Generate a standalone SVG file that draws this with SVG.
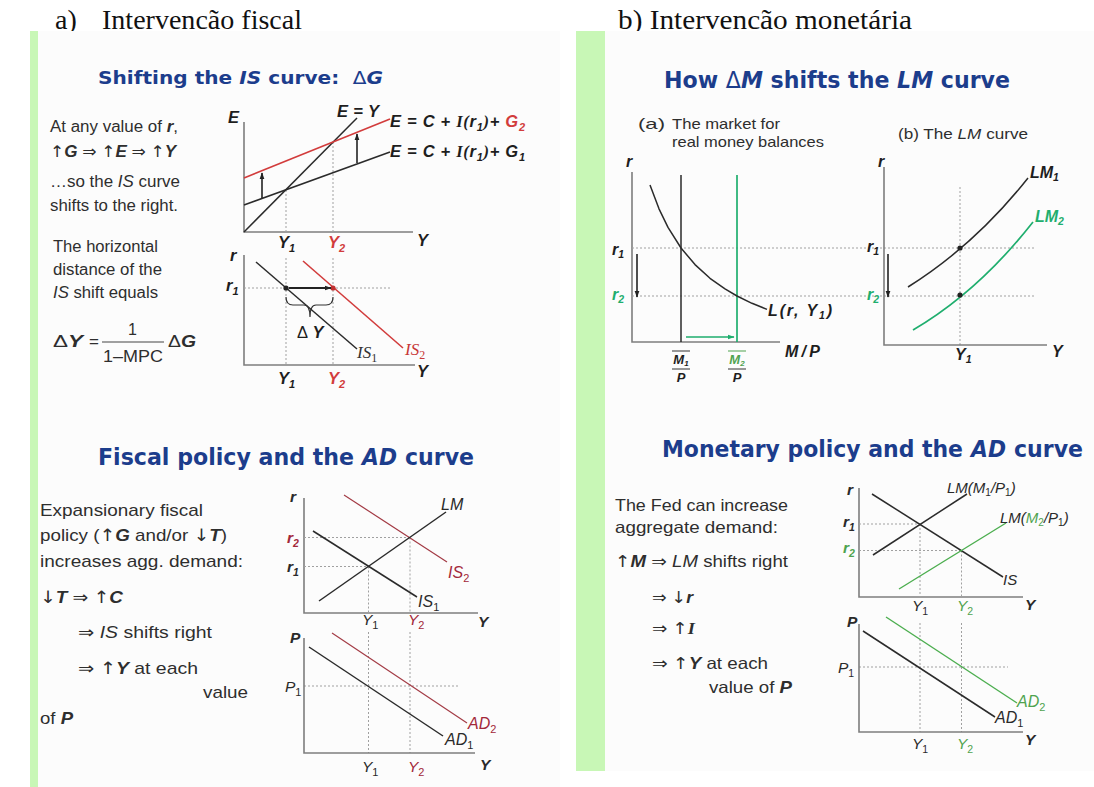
<svg xmlns="http://www.w3.org/2000/svg" width="1094" height="787" viewBox="0 0 1094 787">
<defs>
<style>
.hd{font-family:'Liberation Serif','Times New Roman',serif;font-size:28px;fill:#111}
.ttl{font-family:'DejaVu Sans',Verdana,sans-serif;font-weight:bold;fill:#1c3d8c}
.tx{font-family:'Liberation Sans',Arial,'DejaVu Sans',sans-serif;fill:#2e2e2e}
.lb{font-family:'Liberation Sans',Arial,'DejaVu Sans',sans-serif;font-style:italic;font-weight:bold;fill:#1e1e1e}
.li{font-family:'Liberation Sans',Arial,'DejaVu Sans',sans-serif;font-style:italic;fill:#2a2a2a}
.sf{font-family:'Liberation Serif','Times New Roman',serif}
.ar{font-family:'DejaVu Sans',sans-serif;font-weight:normal;font-style:normal}
.b{font-weight:bold}
.i{font-style:italic}
.n{font-weight:normal;font-style:normal}
.ax{fill:none;stroke:#7d7d7d;stroke-width:1.6}
.dt{fill:none;stroke:#a0a0a0;stroke-width:1;stroke-dasharray:2 2}
.k{fill:none;stroke:#2b2b2b;stroke-width:1.5}
.rd{fill:none;stroke:#d23c3c;stroke-width:1.6}
.dr{fill:none;stroke:#a33a44;stroke-width:1.2}
.tg{fill:none;stroke:#1fae6e;stroke-width:1.7}
.lg{fill:none;stroke:#4cae4f;stroke-width:1.4}
.cr{fill:#d23c3c}
.cdr{fill:#a3283a}
.ctg{fill:#1fae6e}
.clg{fill:#4fa34f}
</style>
<marker id="ak" viewBox="0 0 10 10" refX="9" refY="5" markerWidth="7" markerHeight="7" markerUnits="userSpaceOnUse" orient="auto"><path d="M0,1.5 L10,5 L0,8.5 z" fill="#222"/></marker>
<marker id="ag" viewBox="0 0 10 10" refX="9" refY="5" markerWidth="7" markerHeight="7" markerUnits="userSpaceOnUse" orient="auto"><path d="M0,1.5 L10,5 L0,8.5 z" fill="#1fae6e"/></marker>
</defs>
<rect width="1094" height="787" fill="#ffffff"/>
<g id="headers">
<text class="hd" x="55" y="29">a)</text>
<text class="hd" x="102" y="29" textLength="200" lengthAdjust="spacingAndGlyphs">Intervencão fiscal</text>
<text class="hd" x="618" y="29" textLength="294" lengthAdjust="spacingAndGlyphs">b) Intervencão monetária</text>
</g>
<g id="backgrounds">
<rect x="38" y="31" width="522" height="756" fill="#fcfcfc"/>
<rect x="605" y="31" width="489" height="740" fill="#fcfcfc"/>
<rect x="30" y="31" width="8" height="756" fill="#c8f7b6"/>
<rect x="576" y="31" width="29" height="740" fill="#c8f7b6"/>
</g>

<g id="panel-a-shift-is">
<text class="ttl" x="98" y="84" font-size="18.5" textLength="285" lengthAdjust="spacingAndGlyphs">Shifting the <tspan class="i">IS</tspan> curve: <tspan dx="6" class="n">Δ</tspan><tspan class="i">G</tspan></text>
<g class="tx" font-size="16">
<text x="50" y="132" textLength="128" lengthAdjust="spacingAndGlyphs">At any value of <tspan class="b i">r</tspan>,</text>
<text x="50" y="157" textLength="126" lengthAdjust="spacingAndGlyphs"><tspan class="ar">↑</tspan><tspan class="b i">G</tspan> ⇒ <tspan class="ar">↑</tspan><tspan class="b i">E</tspan> ⇒ <tspan class="ar">↑</tspan><tspan class="b i">Y</tspan></text>
<text x="50" y="187" textLength="130" lengthAdjust="spacingAndGlyphs">…so the <tspan class="i">IS</tspan> curve</text>
<text x="50" y="211" textLength="128" lengthAdjust="spacingAndGlyphs">shifts to the right.</text>
<text x="53" y="252" textLength="105" lengthAdjust="spacingAndGlyphs">The horizontal</text>
<text x="53" y="275" textLength="109" lengthAdjust="spacingAndGlyphs">distance of the</text>
<text x="53" y="298" textLength="105" lengthAdjust="spacingAndGlyphs"><tspan class="i">IS</tspan> shift equals</text>
<text x="53" y="347" font-size="17" textLength="30" lengthAdjust="spacingAndGlyphs">Δ<tspan class="b i">Y</tspan></text>
<text x="89" y="347" font-size="17">=</text>
<text x="128" y="335">1</text>
<text x="103" y="362" textLength="60" lengthAdjust="spacingAndGlyphs">1–MPC</text>
<text x="168" y="347" font-size="17" textLength="28" lengthAdjust="spacingAndGlyphs">Δ<tspan class="b i">G</tspan></text>
</g>
<line x1="102" y1="342" x2="164" y2="342" stroke="#444" stroke-width="1"/>
<path class="ax" d="M244,122 V232 H413"/>
<path class="dt" d="M286,190 V232 M333,142 V232"/>
<path class="k" d="M244,232 L357,118"/>
<path class="k" d="M244,205 L390,152"/>
<path class="rd" d="M244,178 L390,119"/>
<g class="lb" font-size="16.5">
<text x="228" y="123">E</text>
<text x="337" y="117" textLength="42" lengthAdjust="spacing">E = Y</text>
<text x="390" y="127" textLength="135" lengthAdjust="spacing">E = C + <tspan class="sf">I(</tspan>r<tspan font-size="11" dy="4">1</tspan><tspan class="sf" dy="-4">)</tspan>+ <tspan class="cr">G<tspan font-size="11" dy="4">2</tspan></tspan></text>
<text x="390" y="157" textLength="135" lengthAdjust="spacing">E = C + <tspan class="sf">I(</tspan>r<tspan font-size="11" dy="4">1</tspan><tspan class="sf" dy="-4">)</tspan>+ G<tspan font-size="11" dy="4">1</tspan></text>
<text x="278" y="248">Y<tspan font-size="11" dy="4">1</tspan></text>
<text x="328" y="248" class="cr">Y<tspan font-size="11" dy="4">2</tspan></text>
<text x="417" y="246">Y</text>
</g>
<path class="ax" d="M244,255 V365 H415"/>
<path class="dt" d="M244,288 H390 M286,258 V365 M333,258 V365"/>
<path class="k" d="M256,262 L357,349"/>
<path class="rd" d="M303,261 L403,348"/>
<circle cx="286" cy="288" r="2.6" fill="#222"/>
<circle cx="333" cy="288" r="2.6" fill="#c03030"/>
<path d="M286,297 Q286,305 293,305 L304,305 Q310,305 310,317 Q310,305 316,305 L326,305 Q333,305 333,297" fill="none" stroke="#333" stroke-width="1.2"/>
<g class="lb" font-size="16.5">
<text x="230" y="261">r</text>
<text x="226" y="291">r<tspan font-size="11" dy="4">1</tspan></text>
<text x="297" y="338"><tspan class="n">Δ</tspan> Y</text>
<text x="278" y="384">Y<tspan font-size="11" dy="4">1</tspan></text>
<text x="328" y="384" class="cr">Y<tspan font-size="11" dy="4">2</tspan></text>
<text x="417" y="377">Y</text>
</g>
<text class="sf" x="357" y="358" font-size="17" font-style="italic" fill="#333">IS<tspan font-style="normal" font-size="12" dy="4">1</tspan></text>
<text class="sf" x="405" y="355" font-size="17" font-style="italic" fill="#c83838">IS<tspan font-style="normal" font-size="12" dy="4">2</tspan></text>
</g>

<g id="panel-a-fiscal-ad">
<text class="ttl" x="98" y="465" font-size="22.5" textLength="256" lengthAdjust="spacingAndGlyphs">Fiscal policy and the</text>
<text class="ttl i" x="362" y="465" font-size="22.5" textLength="35" lengthAdjust="spacingAndGlyphs">AD</text>
<text class="ttl" x="405" y="465" font-size="22.5" textLength="69" lengthAdjust="spacingAndGlyphs">curve</text>
<g class="tx" font-size="17">
<text x="40" y="516" textLength="163" lengthAdjust="spacingAndGlyphs">Expansionary fiscal</text>
<text x="40" y="541" textLength="187" lengthAdjust="spacingAndGlyphs">policy (<tspan class="ar">↑</tspan><tspan class="b i">G</tspan>  and/or <tspan class="ar">↓</tspan><tspan class="b i">T</tspan>)</text>
<text x="40" y="567" textLength="203" lengthAdjust="spacingAndGlyphs">increases agg. demand:</text>
<text x="40" y="603" textLength="83" lengthAdjust="spacingAndGlyphs"><tspan class="ar">↓</tspan><tspan class="b i">T</tspan> ⇒ <tspan class="ar">↑</tspan><tspan class="b i">C</tspan></text>
<text x="78" y="638" textLength="134" lengthAdjust="spacingAndGlyphs">⇒ <tspan class="i">IS</tspan> shifts right</text>
<text x="78" y="674" textLength="120" lengthAdjust="spacingAndGlyphs">⇒ <tspan class="ar">↑</tspan><tspan class="b i">Y</tspan>  at each</text>
<text x="203" y="698" textLength="45" lengthAdjust="spacingAndGlyphs">value</text>
<text x="40" y="724" textLength="33" lengthAdjust="spacingAndGlyphs">of <tspan class="b i">P</tspan></text>
</g>
<path class="ax" d="M304,498 V613 H478"/>
<path class="dt" d="M304,566.5 H368.5 M304,537.5 H410 M368.5,566.5 V613 M410,537.5 V613 M368.5,632 V753 M410,632 V753 M304,686 H460"/>
<path class="k" stroke-width="1.2" d="M313,531 L417,597"/>
<path class="dr" d="M344,495 L447,562"/>
<path class="k" stroke-width="1.2" d="M319,601 L446,512"/>
<path class="ax" d="M304,638 V753 H475"/>
<path class="k" stroke-width="1.2" d="M309,647 L443,736"/>
<path class="dr" d="M332,633 L467,723"/>
<g class="li" font-size="15.5">
<text x="290" y="502" class="b">r</text>
<text x="287" y="543" class="b cdr">r<tspan font-size="10.5" dy="4">2</tspan></text>
<text x="287" y="572" class="b">r<tspan font-size="10.5" dy="4">1</tspan></text>
<text x="441" y="510" font-size="16">LM</text>
<text x="448" y="578" class="cdr" font-size="16">IS<tspan font-size="11" dy="4" font-style="normal">2</tspan></text>
<text x="418" y="607" font-size="16">IS<tspan font-size="11" dy="4" font-style="normal">1</tspan></text>
<text x="362" y="625">Y<tspan font-size="11" dy="4" font-style="normal">1</tspan></text>
<text x="408" y="625" class="cdr">Y<tspan font-size="11" dy="4" font-style="normal">2</tspan></text>
<text x="478" y="627" class="b">Y</text>
<text x="290" y="643" class="b">P</text>
<text x="285" y="692">P<tspan font-size="11" dy="4" font-style="normal">1</tspan></text>
<text x="468" y="729" class="cdr" font-size="16">AD<tspan font-size="11" dy="4" font-style="normal">2</tspan></text>
<text x="445" y="745" font-size="16">AD<tspan font-size="11" dy="4" font-style="normal">1</tspan></text>
<text x="362" y="772">Y<tspan font-size="11" dy="4" font-style="normal">1</tspan></text>
<text x="408" y="772" class="cdr">Y<tspan font-size="11" dy="4" font-style="normal">2</tspan></text>
<text x="480" y="770" class="b">Y</text>
</g>
</g>

<g id="panel-b-shift-lm">
<text class="ttl" x="664" y="88" font-size="22.5" textLength="346" lengthAdjust="spacingAndGlyphs">How <tspan class="n">Δ</tspan><tspan class="i">M</tspan> shifts the <tspan class="i">LM</tspan> curve</text>
<g class="tx" font-size="14.5" fill="#444">
<text x="638" y="128.5" textLength="27" lengthAdjust="spacingAndGlyphs">(a)</text>
<text x="672" y="128.5" textLength="108" lengthAdjust="spacingAndGlyphs">The market for</text>
<text x="672" y="146.5" textLength="152" lengthAdjust="spacingAndGlyphs">real money balances</text>
<text x="898" y="138.5" textLength="130" lengthAdjust="spacingAndGlyphs">(b) The <tspan class="i">LM</tspan> curve</text>
</g>
<path class="ax" d="M632,172 V342 H780"/>
<path class="dt" d="M632,248 H1035 M632,296 H1035 M960,187 V345"/>
<path class="k" stroke-width="2" d="M681,175 V342"/>
<path class="tg" d="M737,175 V342"/>
<polyline class="k" stroke-width="1.6" stroke-linejoin="round" points="650,185 659,208.8 668,227.4 681,248 695,264.6 710,278.3 725,288.9 737,296 752,303.3 767,309.4"/>
<g class="lb" font-size="16">
<text x="626" y="167">r</text>
<text x="612" y="255">r<tspan font-size="10.5" dy="3">1</tspan></text>
<text x="612" y="300" class="ctg">r<tspan font-size="10.5" dy="3">2</tspan></text>
<text x="768" y="316" textLength="64" lengthAdjust="spacing">L(r, Y<tspan font-size="10.5" dy="3">1</tspan><tspan dy="-3">)</tspan></text>
<text x="785" y="357" textLength="35" lengthAdjust="spacing">M/P</text>
</g>
<g class="lb" font-size="13" text-anchor="middle">
<text x="681" y="364">M<tspan font-size="8" dy="2">1</tspan></text>
<text x="681" y="382">P</text>
<text x="737" y="364" class="clg">M<tspan font-size="8" dy="2">2</tspan></text>
<text x="737" y="382">P</text>
</g>
<path d="M672,351 H690 M672,369 H690 M728,369 H746" stroke="#333" stroke-width="1"/>
<path d="M728,351 H746" stroke="#4fa34f" stroke-width="1"/>
<path class="ax" d="M884,167 V345 H1047"/>
<path class="k" stroke-width="2" d="M908,287 Q975,245 1028,178"/>
<path class="tg" stroke-width="2" d="M913,330 Q978,292 1033,222"/>
<circle cx="960" cy="248" r="2.6" fill="#222"/>
<circle cx="960" cy="295" r="2.6" fill="#222"/>
<g class="lb" font-size="16">
<text x="878" y="167">r</text>
<text x="867" y="252">r<tspan font-size="10.5" dy="3">1</tspan></text>
<text x="867" y="300" class="ctg">r<tspan font-size="10.5" dy="3">2</tspan></text>
<text x="1030" y="178">LM<tspan font-size="10.5" dy="3">1</tspan></text>
<text x="1035" y="222" class="ctg">LM<tspan font-size="10.5" dy="3">2</tspan></text>
<text x="955" y="360">Y<tspan font-size="10.5" dy="3">1</tspan></text>
<text x="1052" y="357">Y</text>
</g>
</g>

<g id="panel-b-monetary-ad">
<text class="ttl" x="662" y="457" font-size="22.5" textLength="301" lengthAdjust="spacingAndGlyphs">Monetary policy and the</text>
<text class="ttl i" x="971" y="457" font-size="22.5" textLength="35" lengthAdjust="spacingAndGlyphs">AD</text>
<text class="ttl" x="1014" y="457" font-size="22.5" textLength="69" lengthAdjust="spacingAndGlyphs">curve</text>
<g class="tx" font-size="16.5">
<text x="615" y="511" textLength="173" lengthAdjust="spacingAndGlyphs">The Fed can increase</text>
<text x="615" y="533" textLength="163" lengthAdjust="spacingAndGlyphs">aggregate demand:</text>
<text x="615" y="567" textLength="173" lengthAdjust="spacingAndGlyphs"><tspan class="ar">↑</tspan><tspan class="b i">M</tspan> ⇒ <tspan class="i">LM</tspan> shifts right</text>
<text x="652" y="603" textLength="41" lengthAdjust="spacingAndGlyphs">⇒ <tspan class="ar">↓</tspan><tspan class="b i">r</tspan></text>
<text x="652" y="634" textLength="43" lengthAdjust="spacingAndGlyphs">⇒ <tspan class="ar">↑</tspan><tspan class="sf b i">I</tspan></text>
<text x="652" y="669" textLength="116" lengthAdjust="spacingAndGlyphs">⇒ <tspan class="ar">↑</tspan><tspan class="b i">Y</tspan>  at each</text>
<text x="709" y="693" textLength="83" lengthAdjust="spacingAndGlyphs">value of <tspan class="b i">P</tspan></text>
</g>
<path class="ax" d="M859,488 V597 H1023"/>
<path class="dt" d="M859,524 H920 M859,550.5 H961.5 M920,524 V597 M961.5,550.5 V597 M920,623 V732 M961.5,623 V732 M859,667 H1008"/>
<path class="k" stroke-width="1.2" d="M872,494 L1003,577"/>
<path class="k" stroke-width="1.2" d="M873,555 L967,494"/>
<path class="lg" d="M899,589 L1006,523"/>
<path class="ax" d="M859,624 V732 H1023"/>
<path class="k" stroke-width="1.2" d="M863,631 L995,717"/>
<path class="lg" d="M886,617 L1017,703"/>
<g class="li" font-size="15.5">
<text x="847" y="495" class="b">r</text>
<text x="843" y="527" class="b">r<tspan font-size="10.5" dy="4">1</tspan></text>
<text x="843" y="553" class="b clg">r<tspan font-size="10.5" dy="4">2</tspan></text>
<text x="947" y="493" font-size="15">LM(M<tspan font-size="10" dy="3" font-style="normal">1</tspan><tspan dy="-3">/P</tspan><tspan font-size="10" dy="3" font-style="normal">1</tspan><tspan dy="-3">)</tspan></text>
<text x="1000" y="523" font-size="15">LM(<tspan class="clg">M<tspan font-size="10" dy="3" font-style="normal">2</tspan></tspan><tspan dy="-3">/P</tspan><tspan font-size="10" dy="3" font-style="normal">1</tspan><tspan dy="-3">)</tspan></text>
<text x="1003" y="585" font-size="15">IS</text>
<text x="912" y="611">Y<tspan font-size="10.5" dy="4" font-style="normal">1</tspan></text>
<text x="957" y="611" class="clg">Y<tspan font-size="10.5" dy="4" font-style="normal">2</tspan></text>
<text x="1025" y="610" class="b">Y</text>
<text x="847" y="627" class="b">P</text>
<text x="838" y="673">P<tspan font-size="10.5" dy="4" font-style="normal">1</tspan></text>
<text x="1017" y="707" class="clg" font-size="16">AD<tspan font-size="11" dy="4" font-style="normal">2</tspan></text>
<text x="995" y="723" font-size="16">AD<tspan font-size="11" dy="4" font-style="normal">1</tspan></text>
<text x="912" y="749">Y<tspan font-size="10.5" dy="4" font-style="normal">1</tspan></text>
<text x="957" y="749" class="clg">Y<tspan font-size="10.5" dy="4" font-style="normal">2</tspan></text>
<text x="1025" y="745" class="b">Y</text>
</g>
</g>

<g id="connectors">
<path d="M262,198 V173" stroke="#222" stroke-width="1.6" marker-end="url(#ak)"/>
<path d="M357,163 V134" stroke="#222" stroke-width="1.6" marker-end="url(#ak)"/>
<path d="M289,288 H331" stroke="#222" stroke-width="2" marker-end="url(#ak)"/>
<path d="M637,254 V297" stroke="#222" stroke-width="1.6" marker-end="url(#ak)"/>
<path d="M888,254 V297" stroke="#222" stroke-width="1.6" marker-end="url(#ak)"/>
<path d="M686,337 H734" stroke="#1fae6e" stroke-width="1.6" marker-end="url(#ag)"/>
</g>
</svg>
